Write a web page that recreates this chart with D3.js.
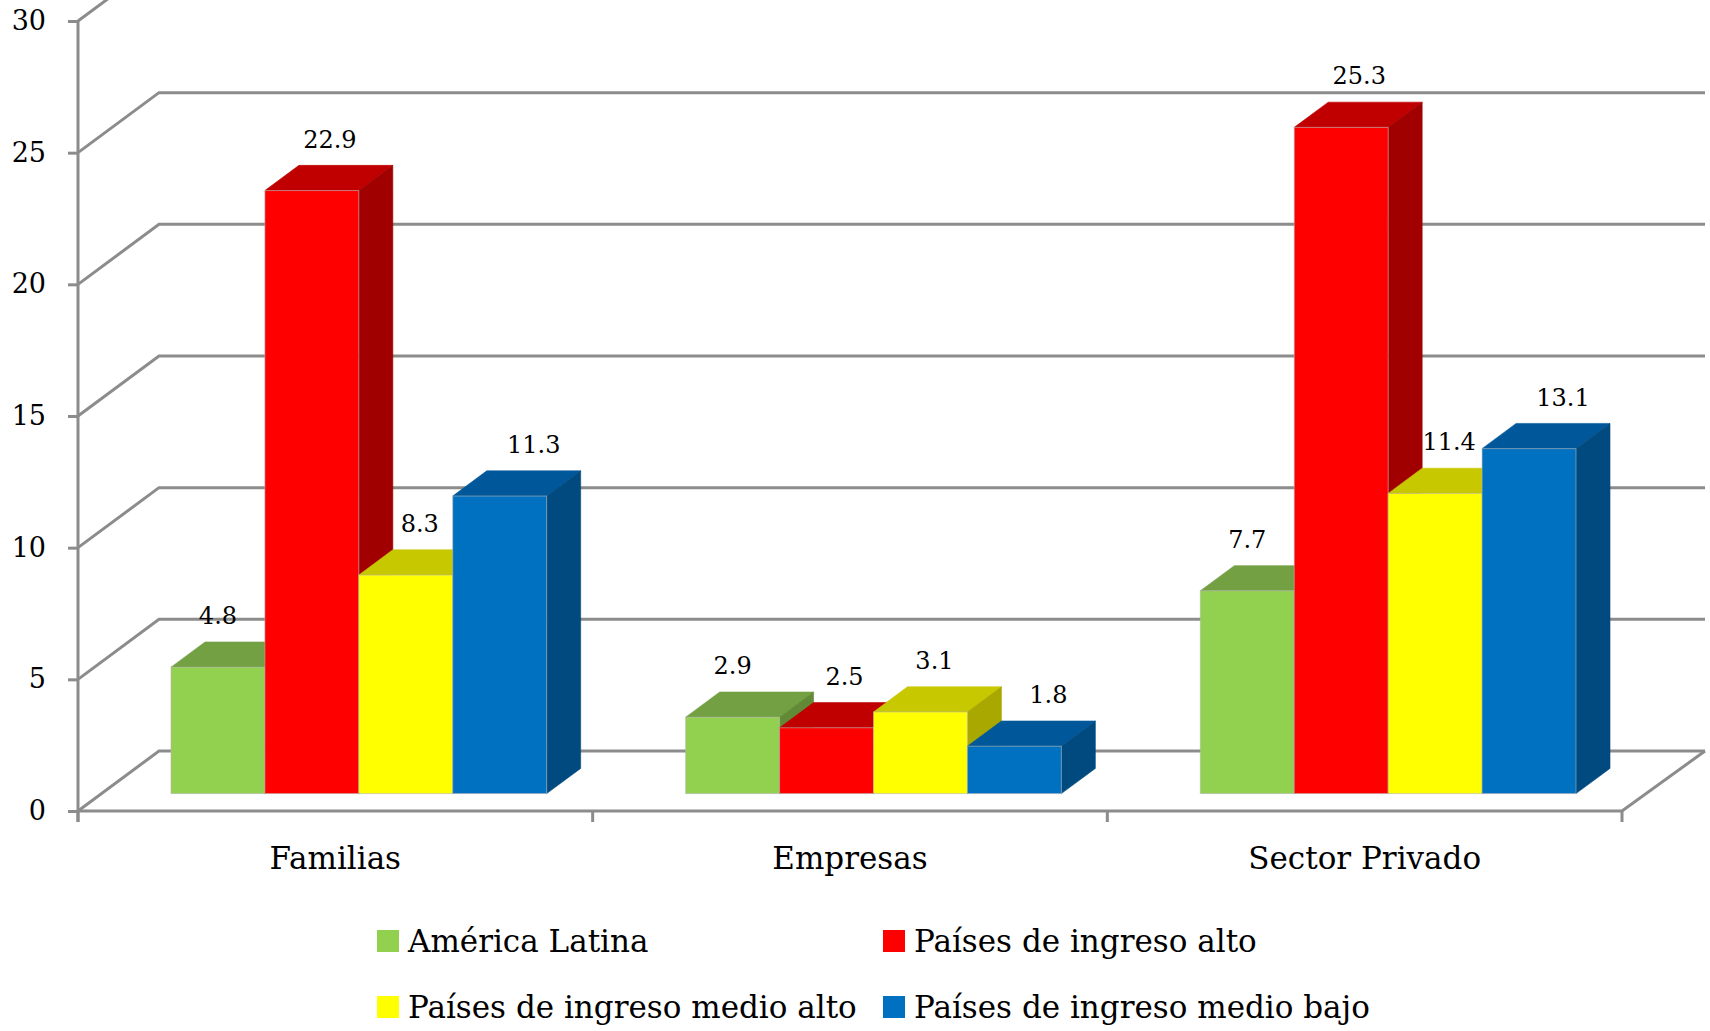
<!DOCTYPE html>
<html>
<head>
<meta charset="utf-8">
<script src="https://cdn.jsdelivr.net/npm/d3@7"></script>
<style>
  html, body { margin: 0; padding: 0; background: #ffffff; }
  svg { display: block; }
  text { font-family: "DejaVu Serif", "Liberation Serif", serif; fill: #000; }
</style>
</head>
<body>
<svg id="chart" width="1710" height="1031"></svg>
<script>
// Categories, series and values
const categories = ["Familias", "Empresas", "Sector Privado"];
const seriesNames = [
  "América Latina",
  "Países de ingreso alto",
  "Países de ingreso medio alto",
  "Países de ingreso medio bajo"
];
const americaLatina = [4.8, 2.9, 7.7];
const ingresoAlto = [22.9, 2.5, 25.3];
const ingresoMedioAlto = [8.3, 3.1, 11.4];
const ingresoMedioBajo = [11.3, 1.8, 13.1];
const yTicks = [0, 5, 10, 15, 20, 25, 30];

const seriesValues = [americaLatina, ingresoAlto, ingresoMedioAlto, ingresoMedioBajo];

// Face colours per series: front, top, side
const palette = [
  { front: "#92d050", top: "#73a043", side: "#628a36" },
  { front: "#ff0000", top: "#c00000", side: "#a00000" },
  { front: "#ffff00", top: "#c8c800", side: "#a8a800" },
  { front: "#0070c0", top: "#00589a", side: "#004a80" }
];
// Horizontal nudge of value labels per series (perspective drift)
const labelNudge = [0, 18, 14, 34];

const svg = d3.select("#chart");
const gridColor = "#8c8c8c";

// Front plane geometry and depth projection
const left = 78, right = 1622, floorY = 811, topY = 21;
const DX = 81, DY = -60;          // full depth of the box
const f0 = 0.29, f1 = 0.71;       // bars occupy the middle of the depth

const y = d3.scaleLinear().domain([0, 30]).range([floorY, topY]);
const x0 = d3.scaleBand().domain(categories).range([left, right]);
const x1 = d3.scaleBand().domain(seriesNames).range([0, x0.bandwidth()])
  .paddingInner(0).paddingOuter(0.74);

const grid = svg.append("g");

// Left wall + back wall gridlines
yTicks.forEach(t => {
  const yy = y(t);
  grid.append("polyline")
    .attr("points", [[left, yy], [left + DX, yy + DY], [right + DX + 2, yy + DY]].map(p => p.join(",")).join(" "))
    .attr("fill", "none").attr("stroke", gridColor).attr("stroke-width", 3)
    .attr("stroke-linejoin", "miter");
});

// Floor: front edge and right diagonal
grid.append("polyline")
  .attr("points", [[left, floorY], [right, floorY], [right + DX + 2, floorY + DY]].map(p => p.join(",")).join(" "))
  .attr("fill", "none").attr("stroke", gridColor).attr("stroke-width", 3);

// Vertical value axis with ticks
const yAxis = d3.axisLeft(y).tickValues(yTicks).tickSize(10).tickPadding(22).tickFormat(d3.format("d"));
const ya = svg.append("g").attr("transform", `translate(${left},0)`).call(yAxis);
ya.select(".domain").attr("stroke", gridColor).attr("stroke-width", 3)
  .attr("d", `M0,${topY}V${floorY + 11}`);
ya.selectAll(".tick line").attr("stroke", gridColor).attr("stroke-width", 3);
ya.selectAll(".tick text")
  .style("font-family", '"DejaVu Serif", serif')
  .style("font-size", "27px").attr("fill", "#000");

// Category axis ticks at band boundaries
const catBounds = categories.map(c => x0(c)).concat([right]);
svg.append("g").selectAll("line").data(catBounds).join("line")
  .attr("x1", d => d).attr("x2", d => d)
  .attr("y1", floorY).attr("y2", floorY + 11)
  .attr("stroke", gridColor).attr("stroke-width", 3);

// Category labels
svg.append("g").selectAll("text").data(categories).join("text")
  .attr("x", d => x0(d) + x0.bandwidth() / 2)
  .attr("y", 869)
  .attr("text-anchor", "middle")
  .style("font-size", "31px")
  .text(d => d);

// 3D bars
const baseX = f0 * DX, baseY = floorY + f0 * DY;
const bdx = (f1 - f0) * DX, bdy = (f1 - f0) * DY;
const unit = y(0) - y(1);

const bars = svg.append("g");
const labels = svg.append("g");
categories.forEach((cat, ci) => {
  seriesNames.forEach((s, si) => {
    const v = seriesValues[si][ci];
    const col = palette[si];
    const xl = x0(cat) + baseX + x1(s);
    const xr = xl + x1.bandwidth();
    const yb = baseY;
    const yt = baseY - v * unit;
    const g = bars.append("g");
    const pts = a => a.map(p => p.join(",")).join(" ");
    g.append("polygon") // top face
      .attr("points", pts([[xl, yt], [xr, yt], [xr + bdx, yt + bdy], [xl + bdx, yt + bdy]]))
      .attr("fill", col.top).attr("stroke", col.top).attr("stroke-width", 0.6);
    g.append("polygon") // side face
      .attr("points", pts([[xr, yt], [xr + bdx, yt + bdy], [xr + bdx, yb + bdy], [xr, yb]]))
      .attr("fill", col.side).attr("stroke", col.side).attr("stroke-width", 0.6);
    g.append("rect") // front face
      .attr("x", xl).attr("y", yt).attr("width", xr - xl).attr("height", yb - yt)
      .attr("fill", col.front).attr("stroke", "rgba(180,180,180,0.6)").attr("stroke-width", 1);

    labels.append("text")
      .attr("x", (xl + xr) / 2 + labelNudge[si])
      .attr("y", yt - 51)
      .attr("text-anchor", "middle")
      .attr("dominant-baseline", "central")
      .style("font-size", "24px")
      .text(d3.format(".1f")(v));
  });
});

// Legend (two columns, two rows)
const legendPos = [[377, 941], [883, 941], [377, 1007], [883, 1007]];
const legend = svg.append("g");
seriesNames.forEach((s, i) => {
  const [lx, ly] = legendPos[i];
  legend.append("rect")
    .attr("x", lx).attr("y", ly - 11).attr("width", 22).attr("height", 22)
    .attr("fill", palette[i].front);
  legend.append("text")
    .attr("x", lx + 31).attr("y", ly)
    .attr("dominant-baseline", "central")
    .style("font-size", "31px")
    .text(s);
});
</script>
</body>
</html>
